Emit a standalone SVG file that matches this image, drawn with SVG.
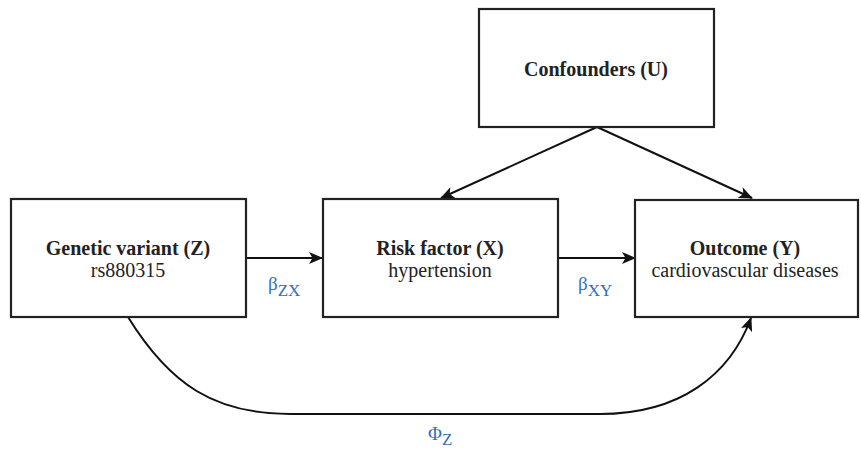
<svg xmlns="http://www.w3.org/2000/svg" width="861" height="450" viewBox="0 0 861 450">
<defs>
<marker id="ah" viewBox="0 0 14 12" refX="13" refY="6" markerWidth="14" markerHeight="12" markerUnits="userSpaceOnUse" orient="auto">
<path d="M0,0 L14,6 L0,12 L3.5,6 z" fill="#111"/>
</marker>
</defs>
<rect width="861" height="450" fill="#fff"/>
<g id="connectors" fill="none" stroke="#111" stroke-width="2">
<line x1="246" y1="258" x2="322" y2="258" marker-end="url(#ah)"/>
<line x1="558" y1="258" x2="635" y2="258" marker-end="url(#ah)"/>
<line x1="597" y1="127" x2="441" y2="198" marker-end="url(#ah)"/>
<line x1="597" y1="127" x2="752" y2="198" marker-end="url(#ah)"/>
<path d="M128,317 C170,385 215,414 290,414 L600,414 C680,414 730,375 751,318" marker-end="url(#ah)"/>
</g>
<g id="labels" fill="#2f6fbf">
<text x="268" y="290" font-family="Times New Roman, serif" font-size="19">&#946;<tspan font-size="17" dy="6">ZX</tspan></text>
<text x="578" y="290" font-family="Times New Roman, serif" font-size="19">&#946;<tspan font-size="17" dy="6">XY</tspan></text>
<text x="428" y="440" font-family="Times New Roman, serif" font-size="19">&#934;<tspan font-size="17" dy="5">Z</tspan></text>
</g>
<g id="nodeU">
<rect x="479" y="9" width="235" height="118" fill="#fff" stroke="#222" stroke-width="2.2"/>
<text x="596" y="76" font-family="Times New Roman, serif" font-size="20" font-weight="bold" fill="#222" text-anchor="middle">Confounders (U)</text>
</g>
<g id="nodeZ">
<rect x="11" y="199" width="235" height="118" fill="#fff" stroke="#222" stroke-width="2.2"/>
<text x="128" y="255" font-family="Times New Roman, serif" font-size="20" font-weight="bold" fill="#222" text-anchor="middle">Genetic variant (Z)</text>
<text x="128" y="277" font-family="Times New Roman, serif" font-size="20" fill="#222" text-anchor="middle">rs880315</text>
</g>
<g id="nodeX">
<rect x="323" y="199" width="235" height="118" fill="#fff" stroke="#222" stroke-width="2.2"/>
<text x="440" y="255" font-family="Times New Roman, serif" font-size="20" font-weight="bold" fill="#222" text-anchor="middle">Risk factor (X)</text>
<text x="440" y="277" font-family="Times New Roman, serif" font-size="20" fill="#222" text-anchor="middle">hypertension</text>
</g>
<g id="nodeY">
<rect x="635" y="200" width="223" height="117" fill="#fff" stroke="#222" stroke-width="2.2"/>
<text x="745" y="255" font-family="Times New Roman, serif" font-size="20" font-weight="bold" fill="#222" text-anchor="middle">Outcome (Y)</text>
<text x="745" y="277" font-family="Times New Roman, serif" font-size="20" fill="#222" text-anchor="middle">cardiovascular diseases</text>
</g>
</svg>
